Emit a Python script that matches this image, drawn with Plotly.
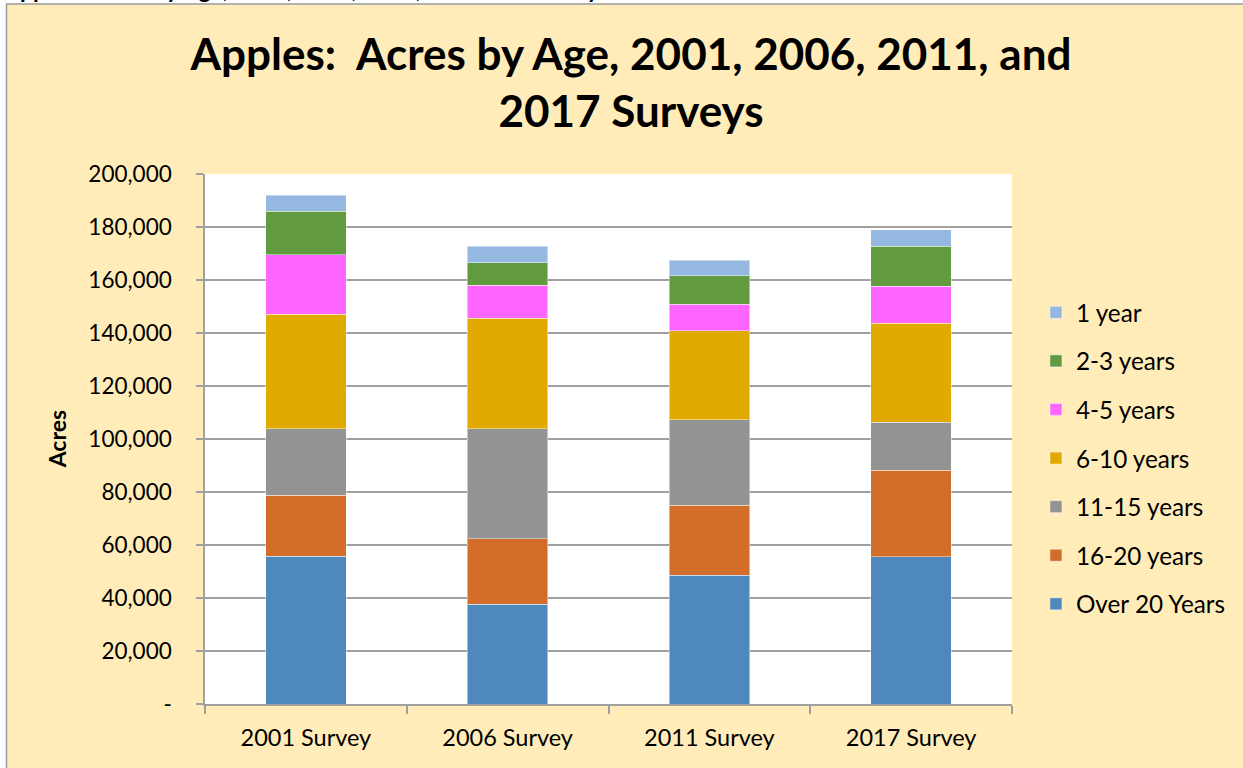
import plotly.graph_objects as go

# Acres by tree age for each survey
surveys = ["2001 Survey", "2006 Survey", "2011 Survey", "2017 Survey"]
over_20 = [55800, 37600, 48600, 55600]
y16_20 = [23000, 24800, 26400, 32600]
y11_15 = [25000, 41500, 32300, 18100]
y6_10 = [43200, 41600, 33500, 37400]
y4_5 = [22500, 12500, 10100, 14000]
y2_3 = [16500, 8500, 10700, 15100]
y1 = [6000, 6300, 5900, 6100]

tick_vals = [0, 20000, 40000, 60000, 80000, 100000, 120000, 140000, 160000, 180000, 200000]
tick_text = ["-", "20,000", "40,000", "60,000", "80,000", "100,000", "120,000",
             "140,000", "160,000", "180,000", "200,000"]

series = [
    ("Over 20 Years", over_20, "#4F89BC"),
    ("16-20 years", y16_20, "#D26D2A"),
    ("11-15 years", y11_15, "#939393"),
    ("6-10 years", y6_10, "#E1AA00"),
    ("4-5 years", y4_5, "#FF66FF"),
    ("2-3 years", y2_3, "#629A3F"),
    ("1 year", y1, "#95B8E0"),
]

FONT = "Lato, sans-serif"
GRID = "#a0a0a0"
PANEL = "#FFECB8"

fig = go.Figure()
for i, (name, vals, color) in enumerate(series):
    fig.add_trace(
        go.Bar(
            x=surveys,
            y=vals,
            name=name,
            legendgroup=name,
            legendrank=len(series) - i,
            marker=dict(color=color, line=dict(color="rgba(255,255,255,0.45)", width=1)),
        )
    )

# plot area in px: x 205..1014, y 174..704
L, R, T, B = 205, 1243 - 1014, 174, 768 - 704
pw, ph = 1014 - 205, 704 - 174


def px(x):
    return (x - L) / pw


def py(y):
    return (704 - y) / ph


fig.update_layout(
    width=1243,
    height=768,
    barmode="stack",
    bargap=0.6,
    margin=dict(l=L, r=R, t=T, b=B),
    paper_bgcolor="white",
    plot_bgcolor="white",
    font=dict(family=FONT, size=22.5, color="black"),
    title=dict(
        text="<b>Apples:  Acres by Age, 2001, 2006, 2011, and<br>2017 Surveys</b>",
        x=631 / 1243, xanchor="center", xref="container",
        y=1 - 70 / 768, yanchor="top",
        font=dict(size=44, family=FONT),
    ),
    legend=dict(
        x=px(1038), y=py(290), xanchor="left", yanchor="top",
        traceorder="grouped", tracegroupgap=14,
        bgcolor="rgba(0,0,0,0)", font=dict(size=24.3),
    ),
    shapes=[
        dict(type="rect", xref="paper", yref="paper", layer="below",
             x0=px(6), x1=px(1260), y0=py(4), y1=py(790),
             fillcolor=PANEL, line=dict(color="#9a9a9a", width=1.5)),
        dict(type="rect", xref="paper", yref="paper", layer="below",
             x0=0, x1=1, y0=0, y1=1, fillcolor="white", line=dict(width=0)),
    ],
    annotations=[
        # page caption above the chart, mostly cut off at the top edge
        dict(text="<b>Apples:  Acres by Age, 2001, 2006, 2011, and 2017 Surveys</b>",
             xref="paper", yref="paper", x=px(0), y=py(5), xanchor="left", yanchor="bottom",
             showarrow=False, font=dict(size=23, family=FONT)),
        dict(text="<b>Acres</b>", xref="paper", yref="paper", x=px(57), y=0.5,
             xanchor="center", yanchor="middle",
             textangle=-90, showarrow=False, font=dict(size=23, family=FONT)),
    ],
    showlegend=True,
)

fig.update_yaxes(
    range=[0, 200000],
    tickvals=tick_vals,
    ticktext=tick_text,
    showgrid=True, gridcolor=GRID, gridwidth=1.5,
    showline=True, linecolor=GRID, linewidth=1.5,
    ticks="outside", ticklen=7, tickcolor=GRID, tickwidth=1.5,
    ticklabelstandoff=20,
    zeroline=False,
)
fig.update_xaxes(
    showline=True, linecolor=GRID, linewidth=1.5,
    ticks="outside", tickson="boundaries", ticklen=8, tickcolor=GRID, tickwidth=1.5,
    ticklabelstandoff=12, tickfont=dict(size=23.5),
    showgrid=False,
)

fig.write_html("out.html", config={"displayModeBar": False},
               post_script="document.body.style.margin='0';")
